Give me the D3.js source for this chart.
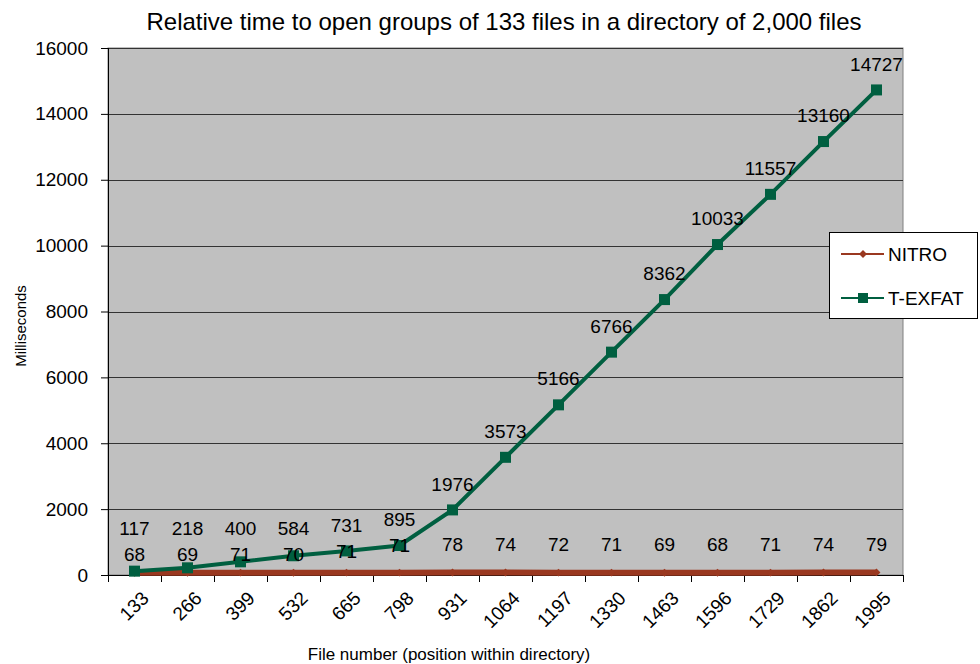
<!DOCTYPE html>
<html><head><meta charset="utf-8">
<script src="https://cdn.jsdelivr.net/npm/d3@7"></script>
<style>
body{margin:0;background:#fff;}
svg{display:block;font-family:"Liberation Sans",Arial,sans-serif;}
</style></head>
<body>
<svg id="c" width="980" height="664"></svg>
<script>
const categories = ["133","266","399","532","665","798","931","1064","1197","1330","1463","1596","1729","1862","1995"];
const nitro = [68,69,71,70,71,71,78,74,72,71,69,68,71,74,79];
const texfat = [117,218,400,584,731,895,1976,3573,5166,6766,8362,10033,11557,13160,14727];
const yTicks = [0,2000,4000,6000,8000,10000,12000,14000,16000];
const seriesNames = ["NITRO","T-EXFAT"];
const colors = {"NITRO":"#9a3820","T-EXFAT":"#005f40"};

const svg = d3.select("#c");
const L=108, R=903, T=48, B=575;
const x = d3.scaleBand().domain(categories).range([L,R]);
const y = d3.scaleLinear().domain([0,16000]).range([B,T]);
const cx = d => x(d)+x.bandwidth()/2;

// plot area
svg.append("rect").attr("x",L).attr("y",T).attr("width",R-L).attr("height",B-T)
  .attr("fill","#c0c0c0").attr("stroke","#808080").attr("stroke-width",1);

// gridlines
svg.append("g").selectAll("line").data(yTicks.filter(v=>v>0)).join("line")
  .attr("x1",L).attr("x2",R).attr("y1",d=>Math.round(y(d))+0.5).attr("y2",d=>Math.round(y(d))+0.5)
  .attr("stroke","#333").attr("stroke-width",1);

// y axis
const yAxis = d3.axisLeft(y).tickValues(yTicks).tickSize(7).tickPadding(13).tickFormat(d3.format("d"));
const gy = svg.append("g").attr("transform",`translate(${L},0)`).call(yAxis);
gy.select(".domain").attr("stroke","#000").attr("d",`M0.5,${T}V${B}`);
gy.selectAll(".tick line").attr("stroke","#000");
gy.selectAll(".tick text").attr("font-size",19).attr("fill","#000").attr("font-family","Liberation Sans, Arial, sans-serif");

// x axis (ticks at category boundaries)
const gx = svg.append("g");
gx.append("line").attr("x1",L).attr("x2",R).attr("y1",B+0.5).attr("y2",B+0.5).attr("stroke","#000");
const bounds = categories.map(c=>x(c)).concat([R]);
gx.selectAll("line.t").data(bounds).join("line").attr("class","t")
  .attr("x1",d=>Math.round(d)+0.5).attr("x2",d=>Math.round(d)+0.5).attr("y1",B).attr("y2",B+7).attr("stroke","#000");
gx.selectAll("text").data(categories).join("text")
  .attr("transform",d=>`translate(${cx(d)+6},${B+15}) rotate(-45)`)
  .attr("text-anchor","end").attr("dy","0.7em").attr("font-size",19).attr("fill","#000").text(d=>d);

// lines
const line = d3.line().x((d,i)=>cx(categories[i])).y(d=>y(d));
svg.append("path").datum(nitro).attr("d",line).attr("fill","none").attr("stroke",colors["NITRO"]).attr("stroke-width",6);
svg.append("g").selectAll("path").data(nitro).join("path")
  .attr("d",d3.symbol(d3.symbolDiamond2,40)())
  .attr("transform",(d,i)=>`translate(${cx(categories[i])},${y(d)})`).attr("fill",colors["NITRO"]);
svg.append("path").datum(texfat).attr("d",line).attr("fill","none").attr("stroke",colors["T-EXFAT"]).attr("stroke-width",4);
svg.append("g").selectAll("rect").data(texfat).join("rect")
  .attr("x",(d,i)=>cx(categories[i])-5.5).attr("y",d=>y(d)-5.5).attr("width",11).attr("height",11)
  .attr("fill",colors["T-EXFAT"]);

// data labels
const tLabelY = texfat.map(v=>Math.min(y(v)-26, B-47));
svg.append("g").selectAll("text").data(texfat).join("text")
  .attr("x",(d,i)=>cx(categories[i])).attr("y",(d,i)=>tLabelY[i]).attr("dy","0.35em")
  .attr("text-anchor","middle").attr("font-size",19).attr("fill","#000").text(d=>d);
svg.append("g").selectAll("text").data(nitro).join("text")
  .attr("x",(d,i)=>cx(categories[i])).attr("y",(d,i)=>Math.max(y(d)-28, tLabelY[i]+26)).attr("dy","0.35em")
  .attr("text-anchor","middle").attr("font-size",19).attr("fill","#000").text(d=>d);

// title
svg.append("text").attr("x",504).attr("y",30).attr("text-anchor","middle").attr("font-size",24).attr("fill","#000")
  .text("Relative time to open groups of 133 files in a directory of 2,000 files");
// axis titles
svg.append("text").attr("transform","translate(26,326) rotate(-90)").attr("text-anchor","middle")
  .attr("font-size",15).attr("fill","#000").text("Milliseconds");
svg.append("text").attr("x",449).attr("y",660).attr("text-anchor","middle").attr("font-size",17).attr("fill","#000")
  .text("File number (position within directory)");

// legend
const lg = svg.append("g").attr("transform","translate(829,232)");
lg.append("rect").attr("x",0.5).attr("y",0.5).attr("width",148).attr("height",86).attr("fill","#fff").attr("stroke","#000");
seriesNames.forEach((s,i)=>{
  const yy = 22 + i*44;
  lg.append("line").attr("x1",12).attr("x2",55).attr("y1",yy).attr("y2",yy).attr("stroke",colors[s]).attr("stroke-width",2);
  if(s==="NITRO") lg.append("path").attr("d",d3.symbol(d3.symbolDiamond2,40)()).attr("transform",`translate(34,${yy})`).attr("fill",colors[s]);
  else lg.append("rect").attr("x",29).attr("y",yy-5).attr("width",10).attr("height",10).attr("fill",colors[s]);
  lg.append("text").attr("x",59).attr("y",yy).attr("dy","0.35em").attr("font-size",19).attr("fill","#000").text(s);
});
</script>
</body></html>
